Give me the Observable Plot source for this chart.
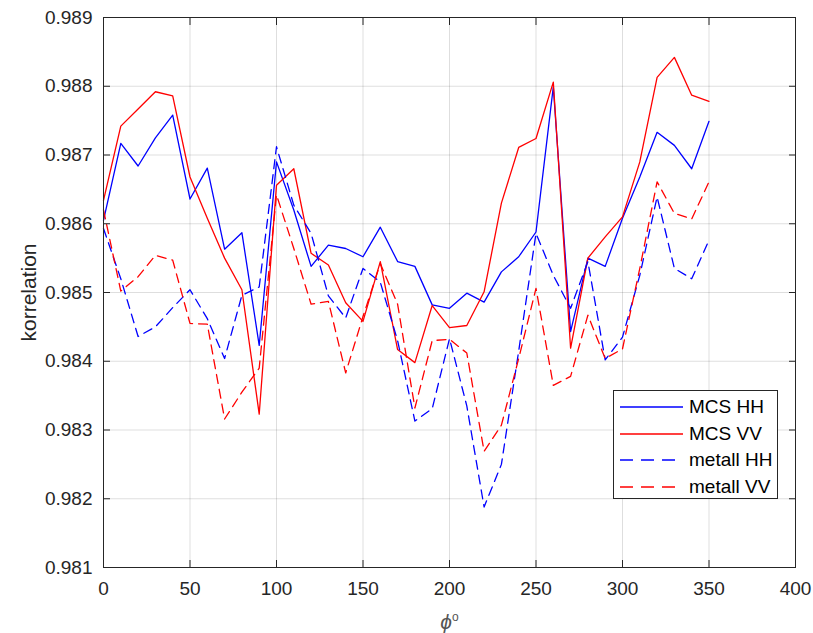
<!DOCTYPE html>
<html>
<head>
<meta charset="utf-8">
<script src="https://cdn.jsdelivr.net/npm/d3@7"></script>
<script src="https://cdn.jsdelivr.net/npm/@observablehq/plot@0.6"></script>
<style>
  html, body { margin: 0; padding: 0; background: #fff; }
  #chart { position: relative; width: 813px; height: 633px; font-family: "Liberation Sans", Arial, sans-serif; }
  #legend { position: absolute; left: 613px; top: 390px; width: 165px; height: 109px; background: #fff; border: 1px solid #262626; box-sizing: border-box; }
  #legend .row { position: absolute; left: 6px; height: 26px; display: flex; align-items: center; font-size: 19px; color: #000; }
  #legend svg { margin-right: 5px; }
</style>
</head>
<body>
<div id="chart"></div>
<script>
const phi = [0,10,20,30,40,50,60,70,80,90,100,110,120,130,140,150,160,170,180,190,200,210,220,230,240,250,260,270,280,290,300,310,320,330,340,350];

const mcsHH = [0.98605,0.98717,0.98684,0.98725,0.98758,0.98636,0.98681,0.98563,0.98587,0.98423,
  0.98690,0.98620,0.98538,0.98569,0.98564,0.98552,0.98595,0.98545,0.98538,0.98482,
  0.98477,0.98499,0.98486,0.98530,0.98552,0.98588,0.98799,0.98443,0.98550,0.98538,
  0.98608,0.98668,0.98733,0.98714,0.98680,0.98749];

const mcsVV = [0.98634,0.98742,0.98767,0.98792,0.98786,0.98668,0.98608,0.98550,0.98504,0.98323,
  0.98656,0.98680,0.98557,0.98540,0.98485,0.98458,0.98545,0.98417,0.98398,0.98481,
  0.98449,0.98452,0.98501,0.98630,0.98711,0.98724,0.98806,0.98419,0.98550,0.98581,
  0.98610,0.98690,0.98813,0.98842,0.98787,0.98778];

const metallHH = [0.98593,0.98520,0.98436,0.98450,0.98478,0.98504,0.98462,0.98404,0.98496,0.98508,
  0.98712,0.98627,0.98586,0.98495,0.98463,0.98535,0.98515,0.98430,0.98313,0.98331,
  0.98433,0.98335,0.98188,0.98250,0.98415,0.98586,0.98525,0.98477,0.98545,0.98402,
  0.98435,0.98525,0.98639,0.98535,0.98520,0.98576];

const metallVV = [0.98620,0.98502,0.98523,0.98554,0.98547,0.98455,0.98454,0.98316,0.98355,0.98390,
  0.98642,0.98564,0.98483,0.98487,0.98383,0.98465,0.98542,0.98483,0.98332,0.98430,
  0.98432,0.98412,0.98269,0.98307,0.98404,0.98506,0.98365,0.98378,0.98467,0.98404,
  0.98418,0.98535,0.98661,0.98615,0.98607,0.98661];

const xTicks = [0,50,100,150,200,250,300,350,400];
const yTicks = [0.981,0.982,0.983,0.984,0.985,0.986,0.987,0.988,0.989];

const seriesNames = ["MCS HH","MCS VV","metall HH","metall VV"];
const seriesColors = ["#0000ff","#ff0000","#0000ff","#ff0000"];
const seriesDash = [null,null,"9,6","9,6"];
const seriesValues = [mcsHH, mcsVV, metallHH, metallVV];

const lineMarks = seriesValues.map((vals, i) =>
  Plot.line(phi.map((p, j) => ({phi: p, v: vals[j]})), {
    x: "phi", y: "v",
    stroke: seriesColors[i],
    strokeWidth: 1.3,
    strokeDasharray: seriesDash[i]
  })
);

const axisColor = "#262626";
const chart = Plot.plot({
  width: 813,
  height: 633,
  marginLeft: 103,
  marginRight: 18,
  marginTop: 17,
  marginBottom: 66,
  style: {fontFamily: "'Liberation Sans', Arial, sans-serif", background: "#fff", color: axisColor},
  x: {domain: [0, 400]},
  y: {domain: [0.981, 0.989]},
  marks: [
    Plot.gridX(xTicks, {stroke: "#000", strokeOpacity: 0.13}),
    Plot.gridY(yTicks, {stroke: "#000", strokeOpacity: 0.13}),
    ...lineMarks,
    Plot.frame({stroke: axisColor, strokeWidth: 1}),
    Plot.axisX(xTicks, {anchor: "bottom", tickSize: -7, tickFormat: () => "", label: null, stroke: axisColor}),
    Plot.axisX(xTicks, {anchor: "top", tickSize: -7, tickFormat: () => "", label: null, stroke: axisColor}),
    Plot.axisY(yTicks, {anchor: "left", tickSize: -7, tickFormat: () => "", label: null, stroke: axisColor}),
    Plot.axisY(yTicks, {anchor: "right", tickSize: -7, tickFormat: () => "", label: null, stroke: axisColor}),
    Plot.axisX(xTicks, {anchor: "bottom", tickSize: 0, tickPadding: 14, fontSize: 19, fill: axisColor,
      label: "ϕ°", labelAnchor: "center", labelArrow: "none", labelOffset: 61}),
    Plot.axisY(yTicks, {anchor: "left", tickSize: 0, tickPadding: 11, fontSize: 19, fill: axisColor,
      tickFormat: d3.format(".3f"),
      label: "korrelation", labelAnchor: "center", labelArrow: "none", labelOffset: 82})
  ]
});

// style axis labels
const xl = chart.querySelector('g[aria-label="x-axis label"] text');
if (xl) {
  xl.textContent = "";
  const t1 = document.createElementNS("http://www.w3.org/2000/svg", "tspan");
  t1.setAttribute("font-style", "italic");
  t1.textContent = "ϕ";
  const t2 = document.createElementNS("http://www.w3.org/2000/svg", "tspan");
  t2.setAttribute("font-size", "12");
  t2.setAttribute("dy", "-8");
  t2.textContent = "o";
  xl.appendChild(t1); xl.appendChild(t2);
  xl.setAttribute("font-size", "21");
  xl.setAttribute("fill", "#555");
}
const yl = chart.querySelector('g[aria-label="y-axis label"] text');
if (yl) { yl.setAttribute("font-size", "21"); yl.setAttribute("fill", "#262626"); }

const container = document.getElementById("chart");
container.appendChild(chart);

// legend
const legend = document.createElement("div");
legend.id = "legend";
seriesNames.forEach((name, i) => {
  const row = document.createElement("div");
  row.className = "row";
  row.style.top = (3 + i * 26.5) + "px";
  const s = d3.create("svg").attr("width", 64).attr("height", 10);
  s.append("line").attr("x1", 0).attr("x2", 63).attr("y1", 5).attr("y2", 5)
    .attr("stroke", seriesColors[i]).attr("stroke-width", 1.3)
    .attr("stroke-dasharray", seriesDash[i] ? "13,8" : null);
  row.appendChild(s.node());
  const label = document.createElement("span");
  label.textContent = name;
  row.appendChild(label);
  legend.appendChild(row);
});
container.appendChild(legend);
</script>
</body>
</html>
